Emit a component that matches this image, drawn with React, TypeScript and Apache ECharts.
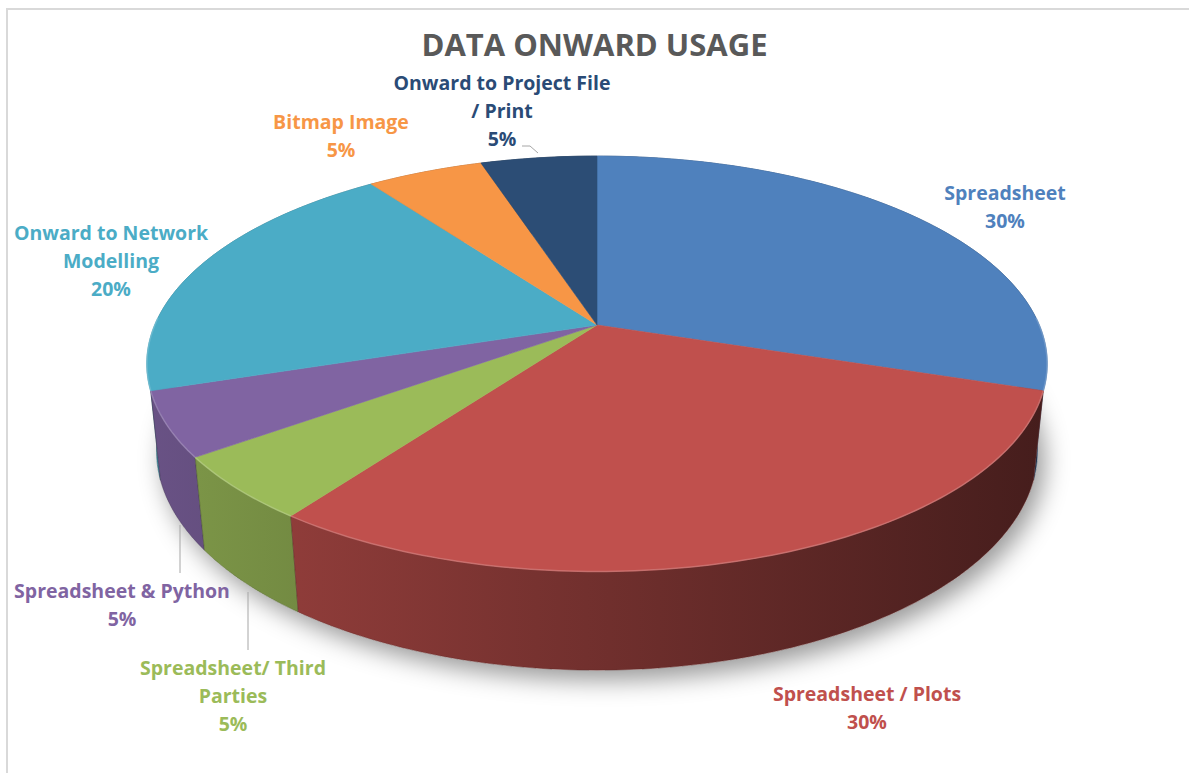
import React, { useEffect, useRef } from "react";
import * as echarts from "echarts";

// ---- data ----
const categories = [
  "Spreadsheet",
  "Spreadsheet / Plots",
  "Spreadsheet/ Third Parties",
  "Spreadsheet & Python",
  "Onward to Network Modelling",
  "Bitmap Image",
  "Onward to Project File / Print",
];
const values = [30, 30, 5, 5, 20, 5, 5];
const labelLines = [
  ["Spreadsheet"],
  ["Spreadsheet / Plots"],
  ["Spreadsheet/ Third", "Parties"],
  ["Spreadsheet & Python"],
  ["Onward to Network", "Modelling"],
  ["Bitmap Image"],
  ["Onward to Project File", "/ Print"],
];
const colors = ["#4F81BD", "#C0504D", "#9BBB59", "#8064A2", "#4BACC6", "#F79646", "#2C4D75"];

// ---- layout ----
const W = 1189;
const H = 773;
const CX = 597;
const CY = 325;
const DIST = 4.774;
const TILT = (26.96 * Math.PI) / 180;
const FOC = 2111;
const THICK = 0.222;
const labelAnchors: [number, number][] = [
  [1005, 206],
  [867, 707],
  [233, 695],
  [122, 604],
  [111, 260],
  [341, 135],
  [502, 110],
];
const leaders: ([number, number][] | null)[] = [
  null,
  null,
  [[248, 592], [248, 650]],
  [[180, 525], [180, 573]],
  null,
  null,
  [[522, 146], [530, 146], [538, 153]],
];
const LABEL_FONT = "bold 19.5px 'Open Sans', sans-serif";

const cosT = Math.cos(TILT);
const sinT = Math.sin(TILT);
function proj(a: number, r: number, y: number): [number, number] {
  const x3 = r * Math.sin(a);
  const z3 = r * Math.cos(a);
  const Y = y * cosT + z3 * sinT;
  const Zc = DIST + z3 * cosT - y * sinT;
  return [CX + (FOC * x3) / Zc, CY - (FOC * Y) / Zc];
}
function mix(hex: string, k: number, target: number) {
  const n = parseInt(hex.slice(1), 16);
  const c = [(n >> 16) & 255, (n >> 8) & 255, n & 255].map((v) =>
    Math.max(0, Math.min(255, Math.round(v * k + target * (1 - k))))
  );
  return "rgb(" + c.join(",") + ")";
}

const total = values.reduce((s, v) => s + v, 0);

export default function App() {
  const ref = useRef<HTMLDivElement>(null);
  useEffect(() => {
    if (!ref.current) return;
    const chart = echarts.init(ref.current, undefined, { renderer: "svg" });

    const bottomRing: number[][] = [];
    for (let k = 0; k < 360; k++) bottomRing.push(proj((k * Math.PI) / 180, 1, -THICK));

    const renderItem = (params: any, api: any) => {
      const i = params.dataIndex;
      const v = api.value(0) as number;
      let before = 0;
      for (let j = 0; j < i; j++) before += values[j];
      const a0 = (before / total) * Math.PI * 2;
      const a1 = ((before + v) / total) * Math.PI * 2;
      const n = Math.max(4, Math.ceil((a1 - a0) / (Math.PI / 180)));
      const topArc: number[][] = [];
      const botArc: number[][] = [];
      const frontArc: number[][] = [];
      for (let k = 0; k <= n; k++) {
        const a = a0 + ((a1 - a0) * k) / n;
        const p = proj(a, 1, 0);
        topArc.push(p);
        botArc.push(proj(a, 1, -THICK));
        if (Math.cos(a) < 0.05) frontArc.push(p);
      }
      const color = colors[i];
      const mid = (a0 + a1) / 2;
      const wall = topArc.concat(botArc.slice().reverse());
      const top = [[CX, CY] as number[]].concat(topArc);
      const children: any[] = [
        {
          type: "polygon",
          z2: Math.round(50 - 40 * Math.cos(mid)),
          shape: { points: wall },
          style: {
            fill: new echarts.graphic.LinearGradient(
              148, 0, 1048, 0,
              [
                { offset: 0, color: mix(color, 0.82, 0) },
                { offset: 1, color: mix(color, 0.36, 0) },
              ],
              true
            ),
            stroke: mix(color, 0.5, 0),
            lineWidth: 0.5,
          },
        },
        {
          type: "polygon",
          z2: 100,
          shape: { points: top },
          style: { fill: color, stroke: color, lineWidth: 0.6 },
        },
      ];
      if (frontArc.length > 1) {
        children.push({
          type: "polyline",
          z2: 101,
          shape: { points: frontArc },
          style: { fill: null, stroke: mix(color, 0.75, 255), lineWidth: 1.5, opacity: 0.7 },
        });
      }
      const pct = Math.round((v / total) * 100) + "%";
      const [lx, ly] = labelAnchors[i];
      children.push({
        type: "text",
        z2: 200,
        style: {
          text: labelLines[i].concat([pct]).join("\n"),
          x: lx,
          y: ly,
          fill: color === "#2C4D75" ? "#2A4B76" : color,
          font: LABEL_FONT,
          align: "center",
          verticalAlign: "middle",
          lineHeight: 28,
        },
      });
      const ld = leaders[i];
      if (ld) {
        children.push({
          type: "polyline",
          z2: 200,
          shape: { points: ld },
          style: { fill: null, stroke: "#A6A6A6", lineWidth: 1 },
        });
      }
      return { type: "group", children };
    };

    chart.setOption({
      animation: false,
      backgroundColor: "#ffffff",
      title: {
        text: "DATA ONWARD USAGE",
        left: "center",
        top: 23,
        textStyle: {
          fontSize: 31,
          fontWeight: "bold",
          color: "#595959",
          fontFamily: "'Open Sans', sans-serif",
        },
      },
      graphic: [
        {
          type: "rect",
          shape: { x: 7, y: 9, width: 1250, height: 850 },
          style: { fill: "none", stroke: "#D9D9D9", lineWidth: 2 },
          silent: true,
        },
        {
          type: "polygon",
          shape: { points: bottomRing },
          style: {
            fill: "#ffffff",
            shadowBlur: 24,
            shadowColor: "rgba(0,0,0,0.4)",
            shadowOffsetX: 7,
            shadowOffsetY: 10,
          },
          silent: true,
        },
      ],
      series: [
        {
          type: "custom",
          coordinateSystem: "none",
          renderItem,
          data: values.map((v, i) => ({ name: categories[i], value: [v] })),
        },
      ],
    });
    return () => chart.dispose();
  }, []);
  return (
    <div
      ref={ref}
      style={{ position: "fixed", left: 0, top: 0, width: W, height: H }}
    />
  );
}
